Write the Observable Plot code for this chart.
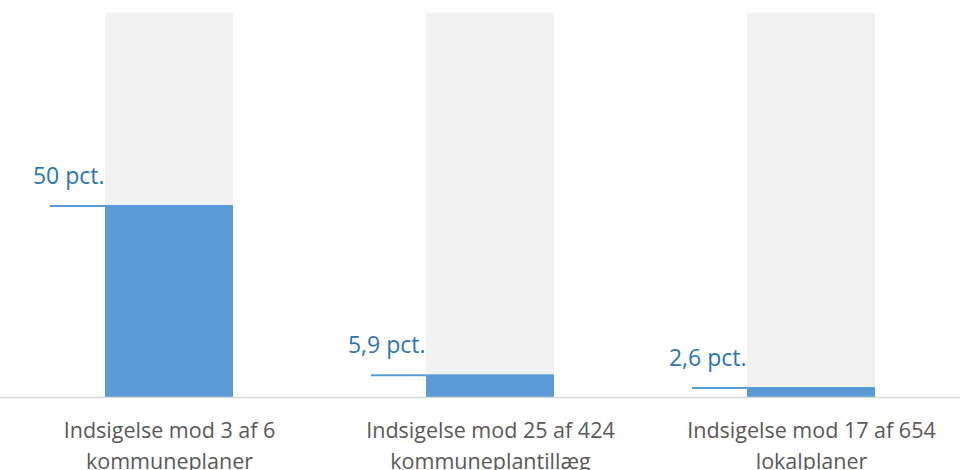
<!DOCTYPE html>
<html><head><meta charset="utf-8">
<script src="https://cdn.jsdelivr.net/npm/d3@7"></script>
<script src="https://cdn.jsdelivr.net/npm/@observablehq/plot@0.6"></script>
<style>body{margin:0;background:#fff}#c{width:960px;height:470px;overflow:hidden}</style>
</head><body><div id="c"></div>
<script>
const categories = ["Indsigelse mod 3 af 6\nkommuneplaner", "Indsigelse mod 25 af 424\nkommuneplantillæg", "Indsigelse mod 17 af 654\nlokalplaner"];
const values = [50, 5.9, 2.6];
const valueLabels = ["50 pct.", "5,9 pct.", "2,6 pct."];
const totals = [100, 100, 100];

const data = categories.map((c, i) => ({cat: c, v: values[i], label: valueLabels[i], total: totals[i]}));
const bw = 128;
const chart = Plot.plot({
  width: 960, height: 470,
  marginTop: 13, marginBottom: 73, marginLeft: 0, marginRight: 0,
  style: {fontFamily: "Open Sans, sans-serif", background: "#fff"},
  x: {domain: categories, range: [0, 980], paddingInner: 1 - bw/321, paddingOuter: 0.327, align: 0.5, axis: null, label: null},
  y: {domain: [0, 100], axis: null, label: null},
  marks: [
    Plot.barY(data, {x: "cat", y: "total", fill: "#f2f2f2"}),
    Plot.barY(data, {x: "cat", y: "v", fill: "#5b9bd5"}),
    Plot.ruleY([0], {stroke: "#d9d9d9", strokeWidth: 1.5}),
    Plot.tickY(data, {x: "cat", y: "v", stroke: "#5b9bd5", strokeWidth: 2, dx: -bw, insetLeft: bw - 55, dy: 0.5}),
    Plot.text(data, {x: "cat", y: "v", text: "label", textAnchor: "end", lineAnchor: "bottom", dx: -bw/2 - 1, dy: -22, fill: "#2e75b6", fontSize: 23}),
    Plot.axisX({tickSize: 0, tickPadding: 18, fontSize: 21.5, fill: "#595959", lineHeight: 1.45, lineWidth: Infinity, textStroke: "none", label: null})
  ]
});
document.getElementById("c").appendChild(chart);
</script></body></html>
